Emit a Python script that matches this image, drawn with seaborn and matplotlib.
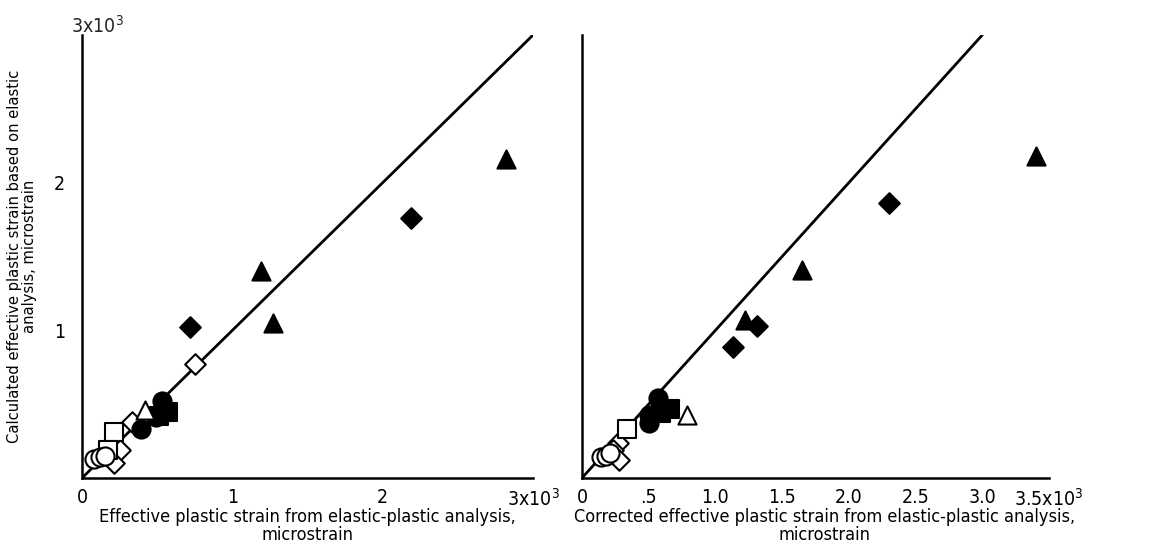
import pandas as pd
import numpy as np
import matplotlib
matplotlib.use('Agg')
import matplotlib.pyplot as plt
import seaborn as sns

# values in thousands of microstrain
# left panel: calculated vs effective plastic strain
l_ftri_x = [1.19, 1.27, 2.82]
l_ftri_y = [1.40, 1.05, 2.16]
l_fdia_x = [0.72, 2.19]
l_fdia_y = [1.02, 1.76]
l_odia_x = [0.75, 0.33, 0.25, 0.21]
l_odia_y = [0.77, 0.38, 0.19, 0.10]
l_osq_x = [0.21, 0.17]
l_osq_y = [0.31, 0.19]
l_fsq_x = [0.57, 0.51]
l_fsq_y = [0.45, 0.42]
l_fcir_x = [0.53, 0.39, 0.49]
l_fcir_y = [0.52, 0.33, 0.41]
l_ocir_x = [0.08, 0.12, 0.15]
l_ocir_y = [0.13, 0.14, 0.15]
l_otri_x = [0.42]
l_otri_y = [0.46]

# right panel: calculated vs corrected effective plastic strain
r_ftri_x = [3.40, 1.65, 1.22]
r_ftri_y = [2.18, 1.41, 1.07]
r_fdia_x = [2.30, 1.31, 1.13]
r_fdia_y = [1.86, 1.03, 0.89]
r_odia_x = [0.27, 0.23, 0.28]
r_odia_y = [0.24, 0.19, 0.12]
r_osq_x = [0.34]
r_osq_y = [0.33]
r_fsq_x = [0.66, 0.59]
r_fsq_y = [0.47, 0.44]
r_fcir_x = [0.57, 0.50, 0.50]
r_fcir_y = [0.54, 0.43, 0.37]
r_ocir_x = [0.14, 0.18, 0.21]
r_ocir_y = [0.14, 0.15, 0.17]
r_otri_x = [0.79]
r_otri_y = [0.43]

left_xticks = [0, 1, 2, 3]
left_xlabels = ['0', '1', '2', '3x10$^3$']
right_xticks = [0, 0.5, 1.0, 1.5, 2.0, 2.5, 3.0, 3.5]
right_xlabels = ['0', '.5', '1.0', '1.5', '2.0', '2.5', '3.0', '3.5x10$^3$']
yticks = [1, 2, 3]

# marker, filled?
groups = {
    'ftri': ('^', True), 'fdia': ('D', True), 'odia': ('D', False),
    'osq': ('s', False), 'fsq': ('s', True), 'fcir': ('o', True),
    'ocir': ('o', False), 'otri': ('^', False),
}

rows = []
for panel, pre in [('L', 'l_'), ('R', 'r_')]:
    for g in groups:
        xs = globals()[pre + g + '_x']
        ys = globals()[pre + g + '_y']
        for a, b in zip(xs, ys):
            rows.append({'panel': panel, 'group': g, 'x': a, 'y': b})
df = pd.DataFrame(rows)

sns.set_theme(style='white')
plt.rcParams['font.family'] = ['DejaVu Sans']
plt.rcParams['font.stretch'] = 'condensed'
plt.rcParams['mathtext.fontset'] = 'custom'
plt.rcParams['mathtext.rm'] = 'DejaVu Sans:stretch=condensed'

fig = plt.figure(figsize=(11.6, 5.56), dpi=100)
axL = fig.add_axes([0.0707, 0.1403, 0.3888, 0.7967])
axR = fig.add_axes([0.5017, 0.1403, 0.4026, 0.7967])

for ax, panel in [(axL, 'L'), (axR, 'R')]:
    sub = df[df.panel == panel]
    for g, (m, filled) in groups.items():
        d = sub[sub.group == g]
        sz = 110 if m == 'D' else 170
        sns.scatterplot(data=d, x='x', y='y', ax=ax, marker=m, s=sz,
                        color='black' if filled else 'white',
                        edgecolor='black', linewidth=1.5, zorder=3)
    ax.axline((0, 0), slope=1, color='black', lw=2, zorder=2)
    ax.set_ylim(0, 3)
    ax.set_yticks(yticks)
    for s in ['top', 'right']:
        ax.spines[s].set_visible(False)
    for s in ['left', 'bottom']:
        ax.spines[s].set_color('black')
        ax.spines[s].set_linewidth(1.8)
    ax.tick_params(axis='x', direction='in', length=15, width=1.5,
                   labelsize=14, pad=7, colors='black')
    ax.tick_params(axis='y', direction='in', length=13, width=1.5,
                   labelsize=14, pad=12, colors='black')

axL.set_xlim(0, 3)
axL.set_xticks(left_xticks)
axL.set_xticklabels(left_xlabels)
axL.set_yticklabels(['1', '2', ''])
axL.text(-0.07, 2.99, '3x10$^3$', fontsize=14, ha='left', va='bottom')
axL.set_xlabel('Effective plastic strain from elastic-plastic analysis,\nmicrostrain',
               fontsize=13, linespacing=1.0, color='black')
axL.set_ylabel('Calculated effective plastic strain based on elastic\nanalysis, microstrain',
               fontsize=11.8, linespacing=1.0, color='black')
axL.yaxis.set_label_coords(-0.1, 0.5)
axL.xaxis.set_label_coords(0.5, -0.068)

axR.set_xlim(0, 3.5)
axR.set_xticks(right_xticks)
axR.set_xticklabels(right_xlabels)
axR.set_yticklabels([])
axR.set_xlabel('Corrected effective plastic strain from elastic-plastic analysis,\nmicrostrain',
               fontsize=13, linespacing=1.0, color='black')
axR.set_ylabel('')
axR.xaxis.set_label_coords(0.52, -0.068)

fig.savefig('out.png', dpi=100)
